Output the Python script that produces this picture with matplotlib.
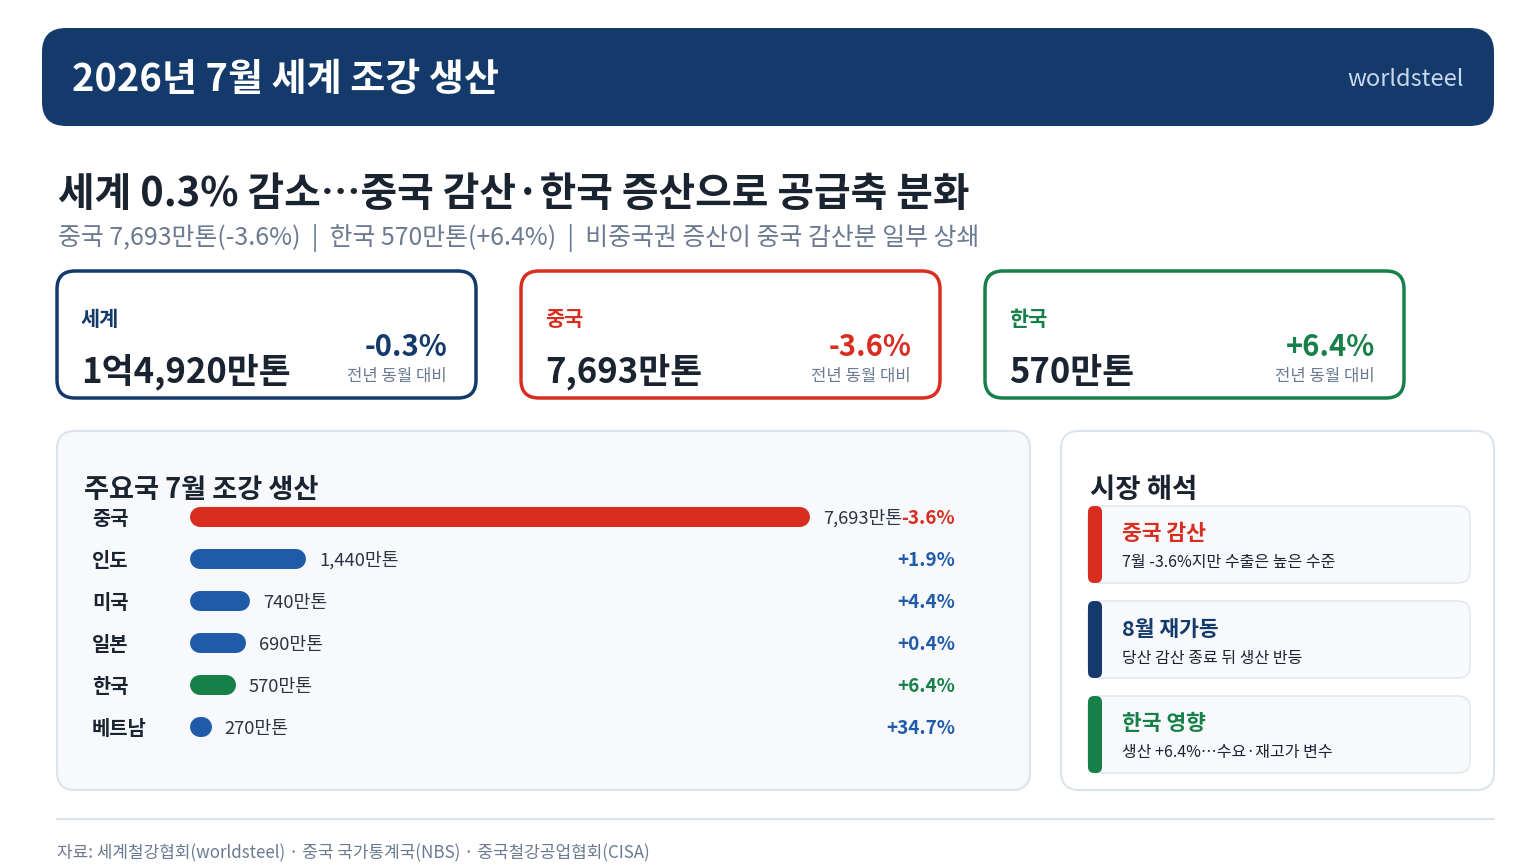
import matplotlib
matplotlib.use("Agg")
import matplotlib.pyplot as plt
import matplotlib.transforms as mtransforms
from matplotlib.patches import FancyBboxPatch

plt.rcParams["font.family"] = ["Noto Sans CJK KR", "DejaVu Sans"]

# data
countries = ["중국", "인도", "미국", "일본", "한국", "베트남"]
output_mt = [7693, 1440, 740, 690, 570, 270]   # 만톤
yoy_pct = [-3.6, 1.9, 4.4, 0.4, 6.4, 34.7]

kpi_names = ["세계", "중국", "한국"]
kpi_values = ["1억4,920만톤", "7,693만톤", "570만톤"]
kpi_changes = [-0.3, -3.6, 6.4]

note_titles = ["중국 감산", "8월 재가동", "한국 영향"]
note_bodies = ["7월 -3.6%지만 수출은 높은 수준",
               "당산 감산 종료 뒤 생산 반등",
               "생산 +6.4%…수요·재고가 변수"]

# colours
navy = "#133a6b"
red = "#d92d20"
green = "#178048"
blue = "#1f5ba8"
dark = "#1a2330"
gray = "#6b7a90"
panel_bg = "#f7f9fc"
border = "#dde3ec"

W, H = 1536, 864
fig = plt.figure(figsize=(W / 100, H / 100), dpi=100, facecolor="white")
page = fig.add_axes([0, 0, 1, 1])
page.set_xlim(0, W)
page.set_ylim(H, 0)
page.axis("off")


def rbox(x0, y0, x1, y1, r, fc, ec="none", lw=0, z=1):
    p = FancyBboxPatch((x0 + r, y0 + r), x1 - x0 - 2 * r, y1 - y0 - 2 * r,
                       boxstyle=f"round,pad={r}", fc=fc, ec=ec, lw=lw, zorder=z)
    page.add_patch(p)


def pct(v):
    return f"{v:+.1f}%"


# header
rbox(42, 28, 1494, 126, 24, navy)
page.text(72, 80, "2026년 7월 세계 조강 생산", color="white", fontsize=27.4,
          fontweight="bold", va="center", ha="left", zorder=3)
page.text(1464, 79, "worldsteel", color="#c9d7ea", fontsize=17,
          va="center", ha="right", zorder=3)

# headline
page.text(58, 195, "세계 0.3% 감소…중국 감산·한국 증산으로 공급축 분화",
          color=dark, fontsize=28.7, fontweight="bold", va="center")
page.text(58, 238,
          "중국 7,693만톤(-3.6%)  |  한국 570만톤(+6.4%)  |  비중국권 증산이 중국 감산분 일부 상쇄",
          color=gray, fontsize=17.9, va="center")

# KPI cards
kpi_colors = [navy, red, green]
card_x = [57, 521, 985]
for name, val, chg, col, x0 in zip(kpi_names, kpi_values, kpi_changes,
                                   kpi_colors, card_x):
    rbox(x0, 271, x0 + 419, 398, 18, "white", ec=col, lw=2.5)
    page.text(x0 + 24, 320, name, color=col, fontsize=15,
              fontweight="bold", va="center", zorder=3)
    page.text(x0 + 24, 372, val, color=dark, fontsize=25,
              fontweight="bold", va="center", zorder=3)
    page.text(x0 + 390, 347, pct(chg), color=col, fontsize=21,
              fontweight="bold", va="center", ha="right", zorder=3)
    page.text(x0 + 390, 377, "전년 동월 대비", color=gray, fontsize=12,
              va="center", ha="right", zorder=3)

# left panel
rbox(57, 431, 1030, 790, 18, panel_bg, ec=border, lw=1.5)
page.text(84, 490, "주요국 7월 조강 생산", color=dark, fontsize=19.6,
          fontweight="bold", va="center", zorder=3)

# bar chart axes (px 190..810 for the longest bar)
bx0, bx1, by0, by1 = 190, 810, 496, 748
ax = fig.add_axes([bx0 / W, 1 - by1 / H, (bx1 - bx0) / W, (by1 - by0) / H])
ax.set_xlim(0, max(output_mt))
ax.set_ylim(len(countries) - 0.5, -0.5)
ax.axis("off")
ax.patch.set_alpha(0)

px = max(output_mt) / (bx1 - bx0)     # data units per pixel
bar_h = 20
r = bar_h / 2 * px
bar_colors = [red if c == "중국" else green if c == "한국" else blue
              for c in countries]
rows = list(range(len(countries)))
ax.hlines(rows, [r] * len(rows), [max(v - r, r + 0.01) for v in output_mt],
          colors=bar_colors, lw=bar_h * 0.72, capstyle="round", clip_on=False)

lab_tf = mtransforms.blended_transform_factory(ax.transAxes, ax.transData)
for i, (c, v, p, col) in enumerate(zip(countries, output_mt, yoy_pct, bar_colors)):
    ax.text((92 - bx0) / (bx1 - bx0), i + 0.04, c, transform=lab_tf, color=dark,
            fontsize=14.3, fontweight="bold", va="center", ha="left")
    ax.text(v + 13 * px, i + 0.04, f"{v:,}만톤", color="#2b3440", fontsize=13.2,
            va="center", ha="left", clip_on=False)
    ax.text((955 - bx0) / (bx1 - bx0), i + 0.04, pct(p), transform=lab_tf,
            color=col, fontsize=13.6, fontweight="bold", va="center", ha="right")

# right panel
rbox(1061, 431, 1494, 790, 18, "white", ec=border, lw=1.5)
page.text(1090, 490, "시장 해석", color=dark, fontsize=19.8,
          fontweight="bold", va="center", zorder=3)
note_colors = [red, navy, green]
for k, (t, b, col) in enumerate(zip(note_titles, note_bodies, note_colors)):
    y0 = 506 + k * 95
    rbox(1088, y0, 1470, y0 + 77, 12, panel_bg, ec="#e3e8ef", lw=1.2, z=2)
    rbox(1088, y0, 1102, y0 + 77, 6, col, z=3)
    page.text(1122, y0 + 28, t, color=col, fontsize=15.5, fontweight="bold",
              va="center", zorder=4)
    page.text(1122, y0 + 57, b, color=dark, fontsize=11.5, va="center",
              zorder=4)

# footer
page.plot([57, 1494], [819, 819], color=border, lw=1.5)
page.text(57, 853,
          "자료: 세계철강협회(worldsteel) · 중국 국가통계국(NBS) · 중국철강공업협회(CISA)",
          color=gray, fontsize=12.2, va="center")

fig.savefig("out.png", dpi=100, facecolor="white")
